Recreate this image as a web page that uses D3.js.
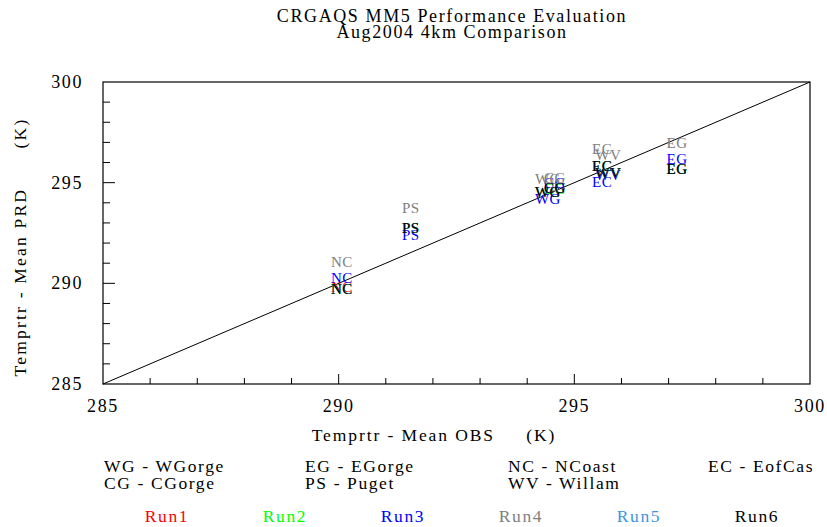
<!DOCTYPE html>
<html>
<head>
<meta charset="utf-8">
<script src="https://cdn.jsdelivr.net/npm/d3@7"></script>
<style>
  html, body { margin: 0; padding: 0; background: #fff; }
  svg text { font-family: "Liberation Serif", "DejaVu Serif", serif; letter-spacing: 1.6px; }
</style>
</head>
<body>
<svg id="chart" width="827" height="527"></svg>
<script>
// Site abbreviations plotted as text markers, with their full names
const sites = ["NC", "PS", "WG", "CG", "EC", "WV", "EG"];
const siteNames = [
  ["WG", "WGorge"], ["CG", "CGorge"],
  ["EG", "EGorge"], ["PS", "Puget"],
  ["NC", "NCoast"], ["WV", "Willam"],
  ["EC", "EofCas"]
];

// Observed mean temperature (K) at each site (same for all runs)
const obsMean = [290.07, 291.53, 294.44, 294.59, 295.59, 295.72, 297.18];

// Predicted mean temperature (K) for each run, per site (order as in `sites`)
const runs = ["Run1", "Run2", "Run3", "Run4", "Run5", "Run6"];
const runColors = ["#ff0000", "#00ff00", "#0000ff", "#808080", "#3f95e0", "#000000"];
const run1 = [289.80, 292.74, 294.54, 294.74, 295.83, 295.48, 295.68];
const run2 = [289.70, 292.73, 294.52, 294.70, 295.82, 295.50, 295.68];
const run3 = [290.25, 292.38, 294.20, 294.98, 295.05, 295.40, 296.18];
const run4 = [291.06, 293.74, 295.20, 295.25, 296.67, 296.35, 296.97];
const run5 = [289.72, 292.75, 294.54, 294.74, 295.83, 295.48, 295.68];
const run6 = [289.72, 292.75, 294.54, 294.74, 295.83, 295.48, 295.68];
const runValues = [run1, run2, run3, run4, run5, run6];

// Axis range and tick labels
const axisMin = 285, axisMax = 300;
const majorTicks = [285, 290, 295, 300];
const minorTicks = d3.range(286, 300);

const titleLines = ["CRGAQS MM5 Performance Evaluation", "Aug2004 4km Comparison"];
const xTitle = "Temprtr - Mean OBS     (K)";
const yTitle = "Temprtr - Mean PRD      (K)";

const svg = d3.select("#chart");
const plotLeft = 103, plotRight = 810, plotTop = 82, plotBottom = 384;

const x = d3.scaleLinear().domain([axisMin, axisMax]).range([plotLeft, plotRight]);
const y = d3.scaleLinear().domain([axisMin, axisMax]).range([plotBottom, plotTop]);

// Title
svg.selectAll("text.title").data(titleLines).enter().append("text")
  .attr("class", "title")
  .attr("x", 452).attr("y", (d, i) => 22 + i * 16)
  .attr("text-anchor", "middle")
  .attr("font-size", 18)
  .attr("fill", "#000")
  .text(d => d);

// Plot frame
svg.append("rect")
  .attr("x", plotLeft).attr("y", plotTop)
  .attr("width", plotRight - plotLeft).attr("height", plotBottom - plotTop)
  .attr("fill", "none").attr("stroke", "#000").attr("stroke-width", 1.2);

// Inward tick marks on left and bottom axes
const g = svg.append("g").attr("stroke", "#000").attr("stroke-width", 1);
minorTicks.forEach(t => {
  const major = t % 5 === 0;
  g.append("line")
    .attr("x1", plotLeft).attr("x2", plotLeft + (major ? 12 : 7))
    .attr("y1", y(t)).attr("y2", y(t));
  g.append("line")
    .attr("x1", x(t)).attr("x2", x(t))
    .attr("y1", plotBottom).attr("y2", plotBottom - (major ? 10 : 6));
});

// Tick labels
svg.selectAll("text.ylab").data(majorTicks).enter().append("text")
  .attr("x", plotLeft - 20).attr("y", d => y(d) + 6)
  .attr("text-anchor", "end").attr("font-size", 18)
  .text(d => d);
svg.selectAll("text.xlab").data(majorTicks).enter().append("text")
  .attr("x", d => x(d)).attr("y", plotBottom + 28)
  .attr("text-anchor", "middle").attr("font-size", 18)
  .text(d => d);

// Axis titles
svg.append("text")
  .attr("x", 434).attr("y", 441)
  .attr("text-anchor", "middle").attr("font-size", 17.5)
  .style("white-space", "pre")
  .style("letter-spacing", "1.9px")
  .text(xTitle);
svg.append("text")
  .attr("transform", "translate(26,247) rotate(-90)")
  .attr("text-anchor", "middle").attr("font-size", 17.5)
  .style("white-space", "pre")
  .style("letter-spacing", "2.2px")
  .text(yTitle);

// 1:1 reference line
svg.append("line")
  .attr("x1", x(axisMin)).attr("y1", y(axisMin))
  .attr("x2", x(axisMax)).attr("y2", y(axisMax))
  .attr("stroke", "#000").attr("stroke-width", 1);

// Site labels for each run, drawn in run order
runs.forEach((r, ri) => {
  svg.append("g").selectAll("text").data(sites).enter().append("text")
    .attr("x", (d, i) => x(obsMean[i]))
    .attr("y", (d, i) => y(runValues[ri][i]) + 5)
    .attr("text-anchor", "middle")
    .attr("font-size", 15)
    .style("letter-spacing", "0.5px")
    .attr("fill", runColors[ri])
    .text(d => d);
});

// Site name key
const keyCols = [104, 305, 508, 708];
siteNames.forEach((s, i) => {
  const col = Math.floor(i / 2), row = i % 2;
  svg.append("text")
    .attr("x", keyCols[col]).attr("y", 472 + row * 17)
    .attr("font-size", 17.5)
    .style("white-space", "pre")
    .text(s[0] + " - " + s[1]);
});

// Run colour key
svg.selectAll("text.run").data(runs).enter().append("text")
  .attr("x", (d, i) => 167 + i * 118).attr("y", 522)
  .attr("text-anchor", "middle").attr("font-size", 17.5)
  .attr("fill", (d, i) => runColors[i])
  .text(d => d);
</script>
</body>
</html>
